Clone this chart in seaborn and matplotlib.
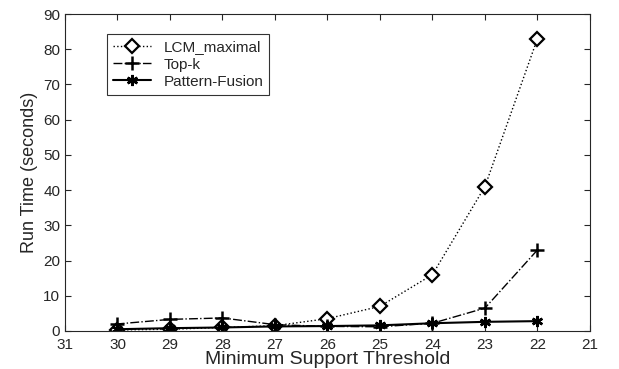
import matplotlib
matplotlib.use("Agg")
import matplotlib.pyplot as plt
import seaborn as sns
import pandas as pd

thresholds = [30, 29, 28, 27, 26, 25, 24, 23, 22]
lcm_maximal = [0.3, 0.5, 1.0, 1.5, 3.5, 7.0, 16.0, 41.0, 83.0]
top_k = [2.0, 3.3, 3.7, 1.8, 1.3, 1.2, 2.2, 6.5, 23.0]
pattern_fusion = [0.5, 0.8, 1.0, 1.3, 1.4, 1.6, 2.2, 2.6, 2.8]

sns.set_style("ticks")
plt.rcParams['font.family'] = ['Liberation Sans', 'DejaVu Sans']

df = pd.DataFrame({
    "threshold": thresholds * 3,
    "time": lcm_maximal + top_k + pattern_fusion,
    "method": ["LCM_maximal"] * 9 + ["Top-k"] * 9 + ["Pattern-Fusion"] * 9,
})

fig = plt.figure(figsize=(6.19, 3.69), dpi=100)
ax = fig.add_axes([0.105, 0.103, 0.848, 0.859])

# matlab-like line styles
styles = {
    "LCM_maximal": dict(linestyle=':', marker='D', markersize=7,
                        markerfacecolor='white', markeredgecolor='black',
                        markeredgewidth=1.6, linewidth=1.0),
    "Top-k": dict(linestyle='-.', marker='+', markersize=10,
                  markeredgecolor='black', markeredgewidth=1.8, linewidth=1.0),
    "Pattern-Fusion": dict(linestyle='-', marker=(6, 2, 0), markersize=8,
                           markeredgecolor='black', markeredgewidth=1.8,
                           linewidth=1.5),
}

for name in ["LCM_maximal", "Top-k", "Pattern-Fusion"]:
    sns.lineplot(
        data=df[df["method"] == name],
        x="threshold",
        y="time",
        color='black',
        label=name,
        ax=ax,
        legend=False
    )
    ax.lines[-1].set(**styles[name])

ax.set_xlim(31, 21)
ax.set_ylim(0, 90)
ax.set_xticks(range(31, 20, -1))
ax.set_yticks(range(0, 91, 10))
ax.tick_params(direction='in', top=True, right=True, labelsize=11, length=4)
ax.tick_params(axis='x', pad=5)
for s in ax.spines.values():
    s.set_visible(True)
    s.set_linewidth(0.8)

ax.set_xlabel("Minimum Support Threshold", fontsize=14, labelpad=-1)
ax.set_ylabel("Run Time (seconds)", fontsize=13)

leg = ax.legend(
    handles=ax.lines,
    loc='upper left',
    bbox_to_anchor=(0.065, 0.96),
    fontsize=11,
    frameon=True,
    fancybox=False,
    edgecolor='black',
    handlelength=2.5,
    borderpad=0.4,
    labelspacing=0.2
)
leg.get_frame().set_linewidth(0.8)

fig.savefig("out.png", dpi=100)
